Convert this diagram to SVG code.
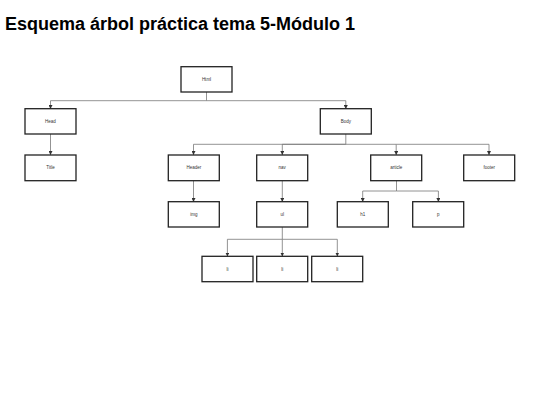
<svg xmlns="http://www.w3.org/2000/svg" width="540" height="405" viewBox="0 0 540 405">
<style>
.n rect{fill:#fff;stroke:#222;stroke-width:1.3}
.n text{font-family:"Liberation Sans",Arial,sans-serif;font-size:4.5px;fill:#333;text-anchor:middle;dominant-baseline:central}
#edges path{fill:none;stroke:#777;stroke-width:0.8}
.t{font-family:"Liberation Sans",Arial,sans-serif;font-size:18px;font-weight:bold;fill:#000}
</style>
<defs>
<marker id="a" viewBox="0 0 6 6" refX="6" refY="3" markerWidth="4" markerHeight="4" orient="auto" markerUnits="userSpaceOnUse">
<path d="M0,0 L6,3 L0,6 z" fill="#333"/>
</marker>
</defs>
<rect width="540" height="405" fill="#fff"/>
<text class="t" x="5" y="30">Esquema árbol práctica tema 5-Módulo 1</text>
<g id="edges">
<path d="M206.5,92 V100.7 H50.5 V109" marker-end="url(#a)"/>
<path d="M206.5,100.7 H345.8 V109" marker-end="url(#a)"/>
<path d="M50.5,134 V155" marker-end="url(#a)"/>
<path d="M345.8,134 V144.3 H193.5 V155" marker-end="url(#a)"/>
<path d="M345.8,144.3 H282.3 V155" marker-end="url(#a)"/>
<path d="M345.8,144.3 H396.2 V155" marker-end="url(#a)"/>
<path d="M396.2,144.3 H489 V155" marker-end="url(#a)"/>
<path d="M193.5,181 V202" marker-end="url(#a)"/>
<path d="M282.3,181 V202" marker-end="url(#a)"/>
<path d="M396.5,181 V191 H362.7 V202" marker-end="url(#a)"/>
<path d="M396.5,191 H438.4 V202" marker-end="url(#a)"/>
<path d="M282.3,227 V239.3 H227.4 V256.5" marker-end="url(#a)"/>
<path d="M282.3,239.3 V256.5" marker-end="url(#a)"/>
<path d="M282.3,239.3 H337.3 V256.5" marker-end="url(#a)"/>
</g>
<g id="html" class="n"><rect x="181" y="66.7" width="51" height="25.3"/><text x="206.5" y="79.4">Html</text></g>
<g id="head" class="n"><rect x="25" y="108.7" width="51" height="25.3"/><text x="50.5" y="121.4">Head</text></g>
<g id="body" class="n"><rect x="320.3" y="108.7" width="51" height="25.3"/><text x="345.8" y="121.4">Body</text></g>
<g id="title" class="n"><rect x="25" y="155" width="51" height="25.7"/><text x="50.5" y="167.9">Title</text></g>
<g id="header" class="n"><rect x="168.3" y="155" width="51" height="25.7"/><text x="193.8" y="167.9">Header</text></g>
<g id="nav" class="n"><rect x="256.7" y="155" width="51" height="25.7"/><text x="282.2" y="167.9">nav</text></g>
<g id="article" class="n"><rect x="370.7" y="155" width="51" height="25.7"/><text x="396.2" y="167.9">article</text></g>
<g id="footer" class="n"><rect x="463.7" y="155" width="51" height="25.7"/><text x="489.2" y="167.9">footer</text></g>
<g id="img" class="n"><rect x="168.3" y="201.7" width="51" height="25.3"/><text x="193.8" y="214.4">img</text></g>
<g id="ul" class="n"><rect x="256.7" y="201.7" width="51" height="25.3"/><text x="282.2" y="214.4">ul</text></g>
<g id="h1" class="n"><rect x="337.3" y="201.7" width="51" height="25.3"/><text x="362.8" y="214.4">h1</text></g>
<g id="p" class="n"><rect x="412.7" y="201.7" width="51" height="25.3"/><text x="438.2" y="214.4">p</text></g>
<g id="li1" class="n"><rect x="202" y="256.3" width="51" height="25.4"/><text x="227.5" y="269">li</text></g>
<g id="li2" class="n"><rect x="256.7" y="256.3" width="51" height="25.4"/><text x="282.2" y="269">li</text></g>
<g id="li3" class="n"><rect x="311.7" y="256.3" width="51" height="25.4"/><text x="337.2" y="269">li</text></g>
</svg>
